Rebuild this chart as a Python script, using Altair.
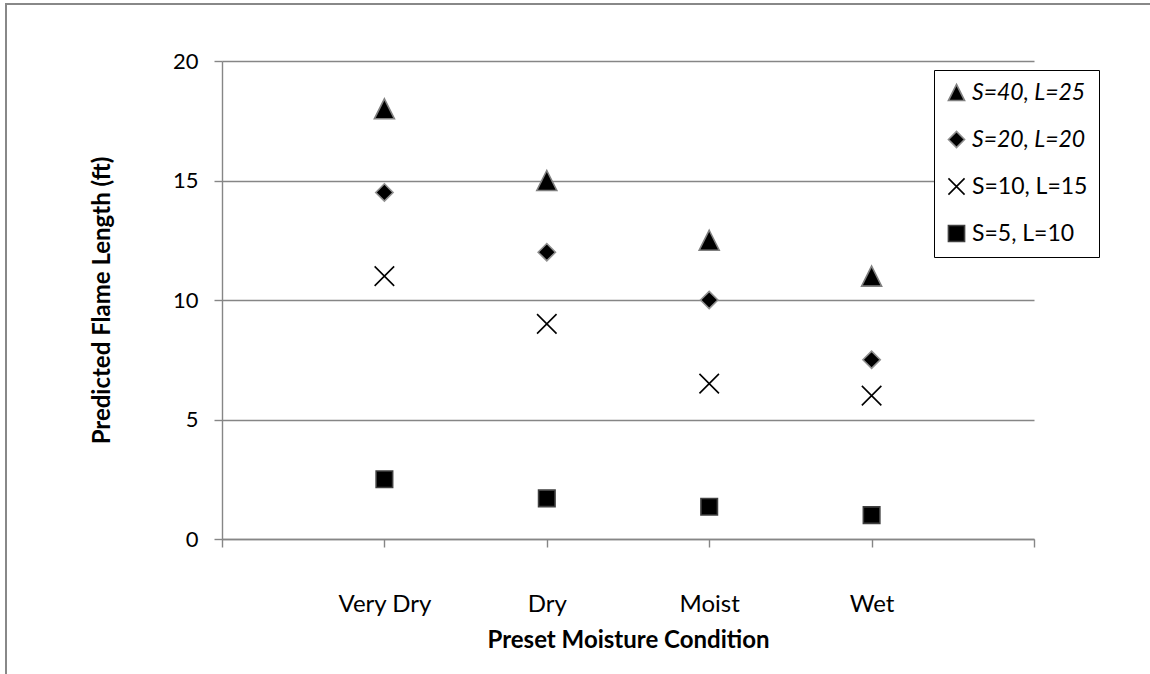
import json
import altair as alt
import pandas as pd

conditions = ["Very Dry", "Dry", "Moist", "Wet"]
positions = [1, 2, 3, 4]
series_names = ["S=40, L=25", "S=20, L=20", "S=10, L=15", "S=5, L=10"]
s40_l25 = [18.0, 15.0, 12.5, 11.0]
s20_l20 = [14.5, 12.0, 10.0, 7.5]
s10_l15 = [11.0, 9.0, 6.5, 6.0]
s5_l10 = [2.5, 1.7, 1.35, 1.0]
y_ticks = [0, 5, 10, 15, 20]
x_ticks = [0, 1, 2, 3, 4, 5]
italic_series = series_names[:2]

rows = []
for name, vals in zip(series_names, [s40_l25, s20_l20, s10_l15, s5_l10]):
    for pos, cond, v in zip(positions, conditions, vals):
        rows.append({"series": name, "pos": pos, "condition": cond, "value": v})
df = pd.DataFrame(rows)

tri_path = "M0,-1L1,1L-1,1Z"
x_path = "M-1,-1L1,1M-1,1L1,-1"
shapes = [tri_path, "diamond", x_path, "square"]
fills = ["#000000", "#000000", "#000000", "#000000"]
strokes = ["#808080", "#909090", "#000000", "#404040"]
sizes = [400, 300, 380, 272]

FONT = "Lato"
label_expr = f"(datum.value >= 1 && datum.value <= 4) ? {json.dumps(conditions)}[datum.value - 1] : ''"
italic_expr = f"indexof({json.dumps(italic_series)}, datum.label) >= 0 ? 'italic' : 'normal'"

legend = alt.Legend(title=None, orient="none", legendX=712, legendY=9,
                    fillColor="white", strokeColor="black", padding=11,
                    labelFont=FONT, labelFontSize=23, labelColor="black",
                    labelFontStyle=alt.ExprRef(italic_expr),
                    symbolSize=260, rowPadding=23, labelOffset=4)

base = alt.Chart(df).encode(
    x=alt.X("pos:Q", scale=alt.Scale(domain=[0, 5], nice=False, zero=False),
            axis=alt.Axis(values=x_ticks, labelExpr=label_expr, grid=False,
                          title="Preset Moisture Condition", tickSize=8,
                          labelPadding=45, titlePadding=12)),
    y=alt.Y("value:Q", scale=alt.Scale(domain=[0, 20], nice=False),
            axis=alt.Axis(values=y_ticks, grid=True, title="Predicted Flame Length (ft)",
                          tickSize=8, labelPadding=16, titlePadding=58)),
    shape=alt.Shape("series:N", scale=alt.Scale(domain=series_names, range=shapes), legend=legend),
    fill=alt.Fill("series:N", scale=alt.Scale(domain=series_names, range=fills), legend=legend),
    stroke=alt.Stroke("series:N", scale=alt.Scale(domain=series_names, range=strokes), legend=legend),
)

layers = []
for name, sz in zip(series_names, sizes):
    layers.append(
        base.transform_filter(alt.datum.series == name)
        .mark_point(filled=True, opacity=1, strokeWidth=1.6, size=sz)
    )

frame = alt.Chart(pd.DataFrame({"a": [0]})).mark_rect(
    fill=None, stroke="#888888", strokeWidth=2
).encode(
    x=alt.value(-216), x2=alt.value(990), y=alt.value(-57), y2=alt.value(650)
)

chart = alt.layer(frame, *layers).properties(
    width=812, height=478,
    autosize=alt.AutoSizeParams(type="none"),
    padding={"left": 222, "top": 61, "right": 116, "bottom": 135},
).configure_view(stroke=None).configure_axis(
    domainColor="#868686", gridColor="#868686", tickColor="#868686",
    domainWidth=1.4, gridWidth=1.4, tickWidth=1.4,
    labelFont=FONT, labelFontSize=22, labelColor="black",
    titleFont=FONT, titleFontSize=24, titleFontWeight="bold", titleColor="black",
).configure_axisX(labelFontSize=24).configure_legend(symbolStrokeWidth=1.6)

chart.save("out.html", embed_options={"renderer": "svg", "actions": False})
